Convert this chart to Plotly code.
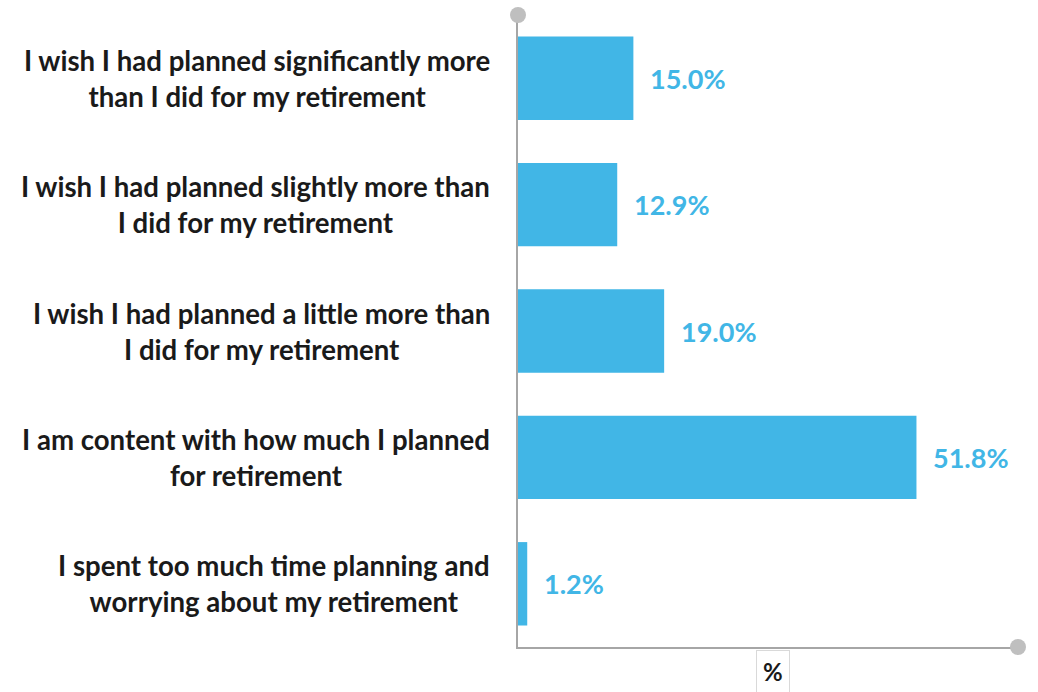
import plotly.graph_objects as go

# Survey responses on retirement planning (share of respondents, %)
categories = [
    "I wish I had planned significantly more<br>than I did for my retirement",
    "I wish I had planned slightly more than<br>I did for my retirement",
    "I wish I had planned a little more than<br>I did for my retirement",
    "I am content with how much I planned<br>for retirement",
    "I spent too much time planning and<br>worrying about my retirement",
]
values = [15.0, 12.9, 19.0, 51.8, 1.2]
axis_title = "%"

BAR_COLOR = "#41B6E6"
AXIS_COLOR = "#A6A6A6"
DOT_COLOR = "#BFBFBF"
FONT = "Lato"

fig = go.Figure()
fig.add_trace(go.Bar(
    x=values,
    y=categories,
    orientation="h",
    marker=dict(color=BAR_COLOR, line=dict(width=0)),
    hoverinfo="skip",
))

annotations = []
# category labels, centred lines, right-aligned block
for cat in categories:
    annotations.append(dict(
        x=0, xref="paper", y=cat, yref="y",
        text=cat, showarrow=False, xanchor="right", yanchor="middle",
        align="center", xshift=-26,
        font=dict(family=FONT, size=27.6, color="#1A1A1A", weight="bold"),
    ))
# value labels next to each bar
for cat, v in zip(categories, values):
    annotations.append(dict(
        x=v, xref="x", y=cat, yref="y",
        text=f"{v:.1f}%", showarrow=False, xanchor="left", yanchor="middle",
        xshift=15,
        font=dict(family=FONT, size=27, color=BAR_COLOR, weight="bold"),
    ))
# axis unit label in a light box
annotations.append(dict(
    x=0.51, xref="paper", y=0, yref="paper", yanchor="top", yshift=-3,
    text=axis_title, showarrow=False,
    font=dict(family=FONT, size=24, color="#1A1A1A", weight="bold"),
    bordercolor="#D9D9D9", borderwidth=1, borderpad=6, bgcolor="white",
))

dot = 8
shapes = [
    dict(type="circle", xref="paper", yref="paper", xsizemode="pixel", ysizemode="pixel",
         xanchor=0, yanchor=1, x0=-dot, x1=dot, y0=-dot, y1=dot,
         fillcolor=DOT_COLOR, line=dict(width=0), layer="above"),
    dict(type="circle", xref="paper", yref="paper", xsizemode="pixel", ysizemode="pixel",
         xanchor=1, yanchor=0, x0=-dot, x1=dot, y0=-dot, y1=dot,
         fillcolor=DOT_COLOR, line=dict(width=0), layer="above"),
]

fig.update_layout(
    width=1038, height=692,
    margin=dict(l=518, r=20, t=15, b=45),
    paper_bgcolor="white", plot_bgcolor="white",
    showlegend=False,
    bargap=0.34,
    annotations=annotations,
    shapes=shapes,
    xaxis=dict(range=[0, 65], showgrid=False, zeroline=False, showticklabels=False,
               showline=True, linecolor=AXIS_COLOR, linewidth=2, ticks="", fixedrange=True),
    yaxis=dict(autorange="reversed", showgrid=False, zeroline=False, showticklabels=False,
               showline=True, linecolor=AXIS_COLOR, linewidth=2, ticks="", fixedrange=True),
)

fig.write_html("out.html")
